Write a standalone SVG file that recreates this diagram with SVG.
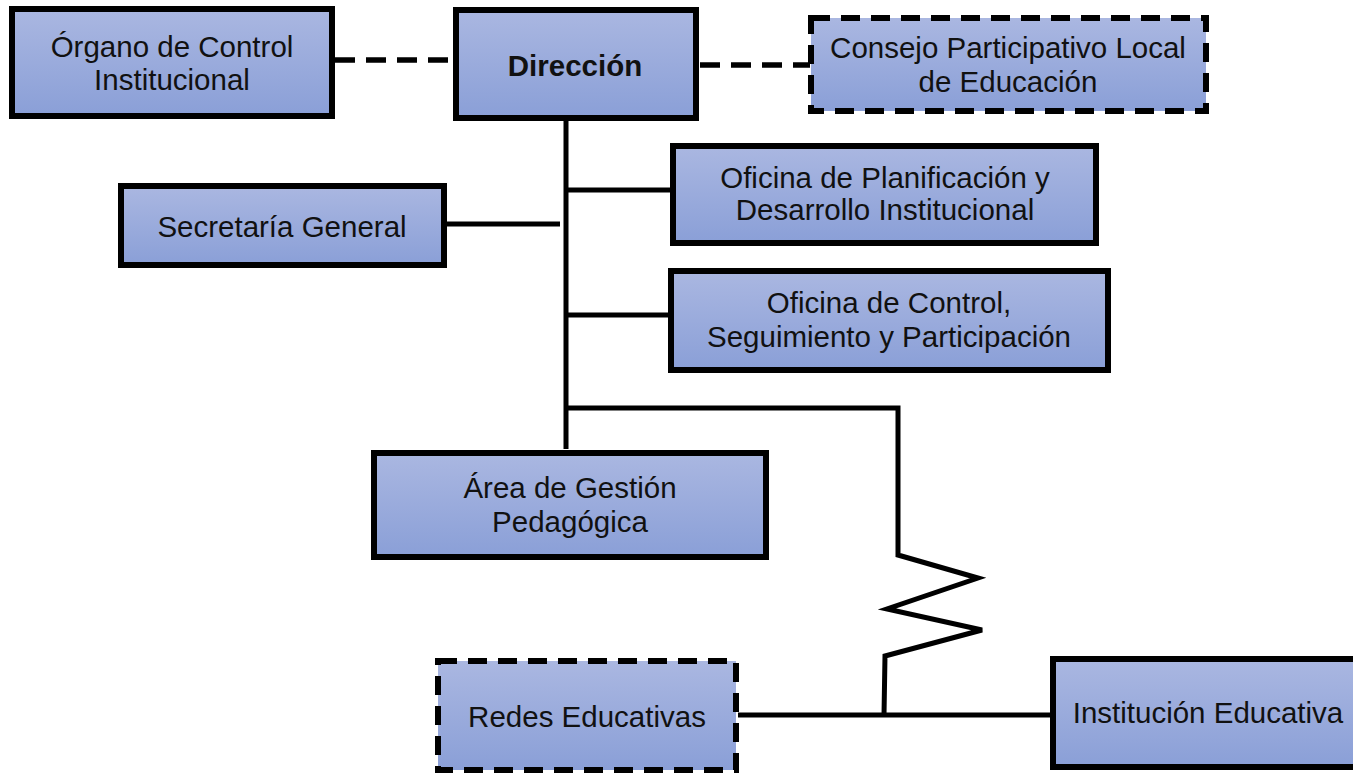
<svg xmlns="http://www.w3.org/2000/svg" width="1353" height="773" viewBox="0 0 1353 773">
<defs>
<linearGradient id="g" x1="0" y1="0" x2="0" y2="1">
<stop offset="0" stop-color="#aab7e1"/>
<stop offset="1" stop-color="#8a9fd7"/>
</linearGradient>
<style>
.box{fill:url(#g);stroke:#000;stroke-width:6}
.dbox{fill:url(#g);stroke:#000;stroke-width:6;stroke-dasharray:19 11}
.t{font-family:"Liberation Sans",Arial,sans-serif;font-size:29.5px;fill:#111;text-anchor:middle}
.b{font-weight:bold}
.c{fill:none;stroke:#000;stroke-width:5}
.dc{fill:none;stroke:#000;stroke-width:5.5;stroke-dasharray:20 11}
</style>
</defs>
<rect width="1353" height="773" fill="#fff"/>
<g id="connectors">
<line class="dc" x1="335" y1="60" x2="455" y2="60"/>
<line class="dc" x1="700" y1="65" x2="810" y2="65"/>
<line class="c" x1="566" y1="120" x2="566" y2="449"/>
<line class="c" x1="566" y1="190" x2="674" y2="190"/>
<line class="c" x1="446" y1="224" x2="560" y2="224"/>
<line class="c" x1="566" y1="315" x2="671" y2="315"/>
<polyline class="c" points="566,408 898,408 898,555 978,578 887,609 982,630 885,656 884,715"/>
<line class="c" x1="738" y1="715" x2="1052" y2="715"/>
</g>
<g id="organo">
<rect class="box" x="12" y="9" width="320" height="107"/>
<text class="t" x="172" y="57">Órgano de Control</text>
<text class="t" x="172" y="90">Institucional</text>
</g>
<g id="direccion">
<rect class="box" x="456" y="10" width="240" height="108"/>
<text class="t b" x="575" y="76">Dirección</text>
</g>
<g id="consejo">
<rect class="dbox" x="811" y="18" width="395" height="93"/>
<text class="t" x="1008" y="58">Consejo Participativo Local</text>
<text class="t" x="1008" y="92">de Educación</text>
</g>
<g id="planificacion">
<rect class="box" x="673" y="146" width="423" height="97"/>
<text class="t" x="885" y="188">Oficina de Planificación y</text>
<text class="t" x="885" y="220">Desarrollo Institucional</text>
</g>
<g id="secretaria">
<rect class="box" x="121" y="186" width="323" height="79"/>
<text class="t" x="282" y="237">Secretaría General</text>
</g>
<g id="control">
<rect class="box" x="671" y="271" width="437" height="99"/>
<text class="t" x="889" y="313">Oficina de Control,</text>
<text class="t" x="889" y="347">Seguimiento y Participación</text>
</g>
<g id="area">
<rect class="box" x="374" y="453" width="392" height="104"/>
<text class="t" x="570" y="498">Área de Gestión</text>
<text class="t" x="570" y="532">Pedagógica</text>
</g>
<g id="redes">
<rect class="dbox" x="438" y="661" width="298" height="109"/>
<text class="t" x="587" y="727">Redes Educativas</text>
</g>
<g id="institucion">
<rect class="box" x="1053" y="659" width="304" height="108"/>
<text class="t" x="1208" y="723">Institución Educativa</text>
</g>
</svg>
